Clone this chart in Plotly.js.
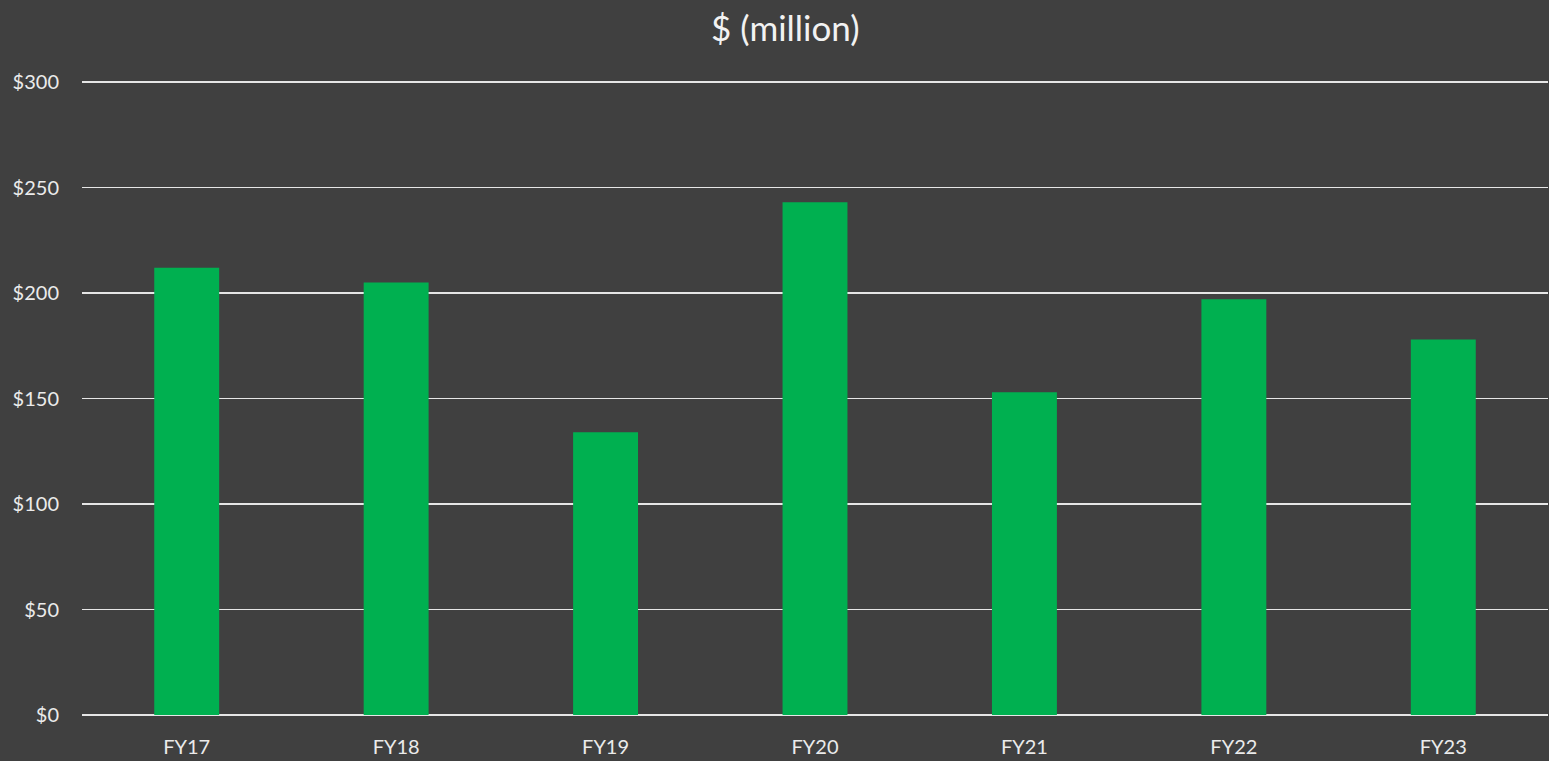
<!DOCTYPE html>
<html>
<head>
<meta charset="utf-8">
<script src="https://cdn.plot.ly/plotly-3.0.1.min.js"></script>
<style>html,body{margin:0;padding:0;background:#404040;}#chart{width:1549px;height:761px;}</style>
</head>
<body>
<div id="chart"></div>
<script>
const categories = ["FY17", "FY18", "FY19", "FY20", "FY21", "FY22", "FY23"];
const values = [212, 205, 134, 243, 153, 197, 178];
const yTickVals = [0, 50, 100, 150, 200, 250, 300];
const yTickText = ["$0", "$50", "$100", "$150", "$200", "$250", "$300"];

const trace = {
  type: "bar",
  x: categories,
  y: values,
  marker: {color: "#00B050"},
  hoverinfo: "x+y"
};

const layout = {
  width: 1549,
  height: 761,
  paper_bgcolor: "#404040",
  plot_bgcolor: "#404040",
  font: {family: "Lato, 'Open Sans', sans-serif", color: "#ebebeb", size: 20},
  title: {text: "$ (million)", font: {size: 35, color: "#f2f2f2"}, x: 0.507, xanchor: "center", y: 0.962, yanchor: "middle"},
  margin: {l: 82, r: 1, t: 81, b: 46},
  bargap: 0.69,
  showlegend: false,
  xaxis: {
    type: "category",
    showgrid: false,
    zeroline: false,
    showline: false,
    ticks: "",
    ticklabelstandoff: 18,
    tickfont: {size: 20, color: "#ebebeb"}
  },
  yaxis: {
    range: [0, 300.5],
    tickvals: yTickVals,
    ticktext: yTickText,
    showgrid: true,
    gridcolor: "#e6e6e6",
    gridwidth: 1.4,
    zeroline: true,
    zerolinecolor: "#e6e6e6",
    zerolinewidth: 1.4,
    showline: false,
    ticks: "",
    ticklabelstandoff: 22,
    tickfont: {size: 20, color: "#ebebeb"}
  }
};

Plotly.newPlot("chart", [trace], layout, {displayModeBar: false, staticPlot: true});
</script>
</body>
</html>
